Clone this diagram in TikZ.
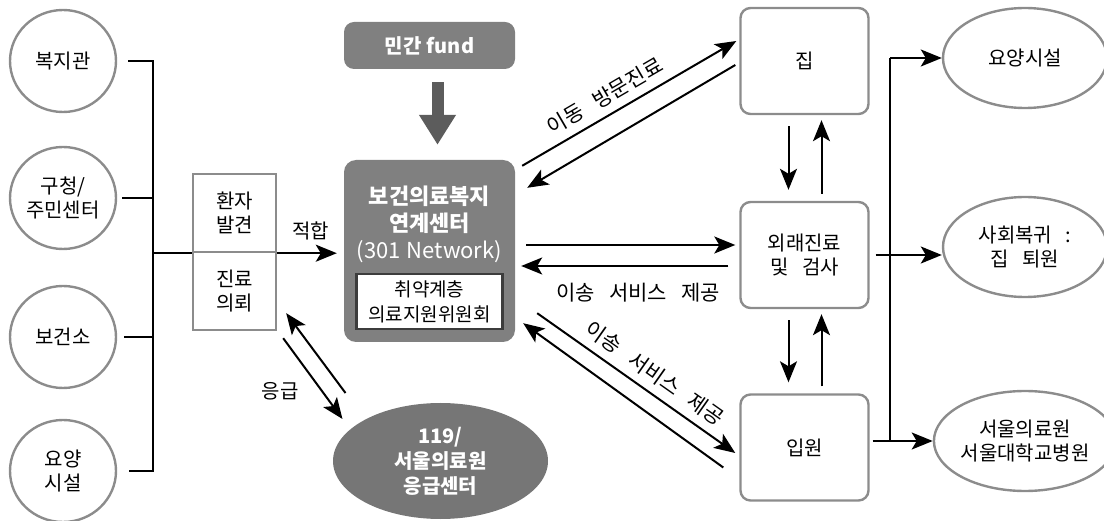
\documentclass[tikz,border=0pt]{standalone}
\usepackage{fontspec}
\setmainfont[WordSpace=1.2]{Noto Sans CJK KR}
\newfontfamily\widekr[WordSpace=3]{Noto Sans CJK KR}
\usetikzlibrary{arrows.meta,shapes.geometric}
\definecolor{ringgray}{HTML}{8C8C8C}
\definecolor{hubgray}{HTML}{808080}
\definecolor{fundgray}{HTML}{5C5C5C}
\definecolor{lidgray}{HTML}{3C3C3C}

\begin{document}
\begin{tikzpicture}[x=1pt,y=-1pt]
\tikzstyle{every node}+=[inner sep=0pt,align=center,font=\fontsize{20}{24}\selectfont]
\tikzstyle{ring}=[ellipse,draw=ringgray,line width=2.4pt,minimum width=106pt,minimum height=102pt]
\tikzstyle{oval}=[ellipse,draw=ringgray,line width=2.4pt,minimum width=164pt,minimum height=100pt,font=\widekr\fontsize{20}{24}\selectfont]
\tikzstyle{stepbox}=[rectangle,draw=ringgray,line width=2.4pt,minimum width=83pt,minimum height=78pt]
\tikzstyle{room}=[rectangle,rounded corners=10pt,draw=ringgray,line width=2.4pt,minimum width=128pt,minimum height=106pt,font=\widekr\fontsize{20}{24}\selectfont]
\tikzstyle{darkbox}=[rectangle,rounded corners=12pt,fill=hubgray,text=white]
\tikzstyle{wire}=[black,line width=2pt]
\tikzstyle{link}=[black,line width=2pt,-{Stealth[length=21pt,width=17pt,inset=5pt]}]
\tikzstyle{tag}=[font=\widekr\fontsize{21}{25}\selectfont]
\useasboundingbox (0,0) rectangle (1104,521);
\node [ring] (bokji) at (63,61) {복지관};
\node [ring] (gucheong) at (63,198) {구청/\\주민센터};
\node [ring] (bogeon) at (63,337) {보건소};
\node [ring] (yoyang) at (63,471) {요양\\시설};
\node [stepbox] (find) at (234.5,213) {환자\\발견};
\node [stepbox] (refer) at (234.5,291) {진료\\의뢰};
\node [darkbox,minimum width=171pt,minimum height=47pt,rounded corners=10pt,font=\fontsize{20}{24}\selectfont\bfseries] (fund) at (429.5,45.5) {민간 fund};
\node [darkbox,minimum width=171pt,minimum height=182pt] (hub) at (429.5,251) {};
\node [text=white,font=\fontsize{22}{27}\selectfont\bfseries] (hubtitle) at (429.5,224) {보건의료복지\\연계센터\\{\mdseries (301 Network)}};
\node [draw=lidgray,line width=2.5pt,fill=white,minimum width=146pt,minimum height=55pt,font=\fontsize{19}{25}\selectfont] (committee) at (429.5,301.5) {취약계층\\의료지원위원회};
\node [ellipse,fill=hubgray!92!black,text=white,minimum width=215pt,minimum height=116pt,font=\fontsize{20}{25}\selectfont\bfseries] (er) at (440.5,461) {119/\\서울의료원\\응급센터};
\node [room] (home) at (804.5,61) {집};
\node [room] (clinic) at (804.5,255) {외래진료\\및 검사};
\node [room] (ward) at (804.5,447.5) {입원};
\node [oval] (nursing) at (1025,58) {요양시설};
\node [oval] (return) at (1025,247) {사회복귀 :\\집 퇴원};
\node [oval] (hospital) at (1025,441) {서울의료원\\서울대학교병원};
\coordinate (spinetop) at (153,61);
\coordinate (forktop) at (890,58);
\draw [wire] ([xshift=11pt]bokji.east) -- (spinetop) -- (spinetop |- yoyang.east) -- ([xshift=12pt]yoyang.east);
\draw [wire] ([xshift=5pt]gucheong.east) -- (gucheong.east -| spinetop);
\draw [wire] ([xshift=7pt]bogeon.east) -- (bogeon.east -| spinetop);
\draw [wire] (find.south west -| spinetop) -- (find.south west);
\draw [link,shorten >=7pt] (find.south east) -- (find.south east -| hub.west) node [midway,above=12pt] {적합};
\draw [fundgray,line width=12pt,-{Triangle[length=30pt,width=35pt]}] ([xshift=8pt,yshift=-13pt]fund.south) -- ([xshift=8pt,yshift=15pt]hub.north);
\draw [link] ([shift={(-95,-68)}]er.center) -- ([shift={(9,-18)}]refer.south east);
\draw [link] ([shift={(6,7)}]refer.south east) -- ([shift={(-98,-42)}]er.center);
\draw (280,391) node {응급};
\draw [link] ([shift={(7,6)}]hub.north east) -- ([shift={(-3,-20)}]home.west) node [tag,pos=0.43,sloped,above=8pt] {이동 방문진료};
\draw [link] ([shift={(-4,4)}]home.west) -- ([shift={(12,28)}]hub.north east);
\draw [link] ([shift={(11,-6)}]hub.east) -- ([shift={(-4,-10)}]clinic.west);
\draw [link] ([shift={(-11,11)}]clinic.west) -- ([shift={(6,15)}]hub.east);
\draw (638,293) node [tag] {이송 서비스 제공};
\draw [link] ([shift={(22,-29)}]hub.south east) -- ([shift={(-4,5.5)}]ward.west) node [tag,pos=0.54,sloped,above=8pt] {이송 서비스 제공};
\draw [link] ([shift={(-16,20)}]ward.west) -- ([shift={(8,-19)}]hub.south east);
\draw [link] ([shift={(-16,11)}]home.south) -- ([shift={(-16,-11)}]clinic.north);
\draw [link] ([shift={(17,-7)}]clinic.north) -- ([shift={(17,5)}]home.south);
\draw [link] ([shift={(-16,11)}]clinic.south) -- ([shift={(-16,-11)}]ward.north);
\draw [link] ([shift={(17,-7)}]ward.north) -- ([shift={(17,5)}]clinic.south);
\draw [link] (forktop) -- (nursing.west);
\draw [wire] (forktop) -- (forktop |- hospital.west);
\draw [link] (clinic.east) ++(6,0) -- (return.west |- clinic.east);
\draw [link] (ward.east |- hospital.west) ++(3,0) -- (hospital.west);
\end{tikzpicture}
\end{document}
